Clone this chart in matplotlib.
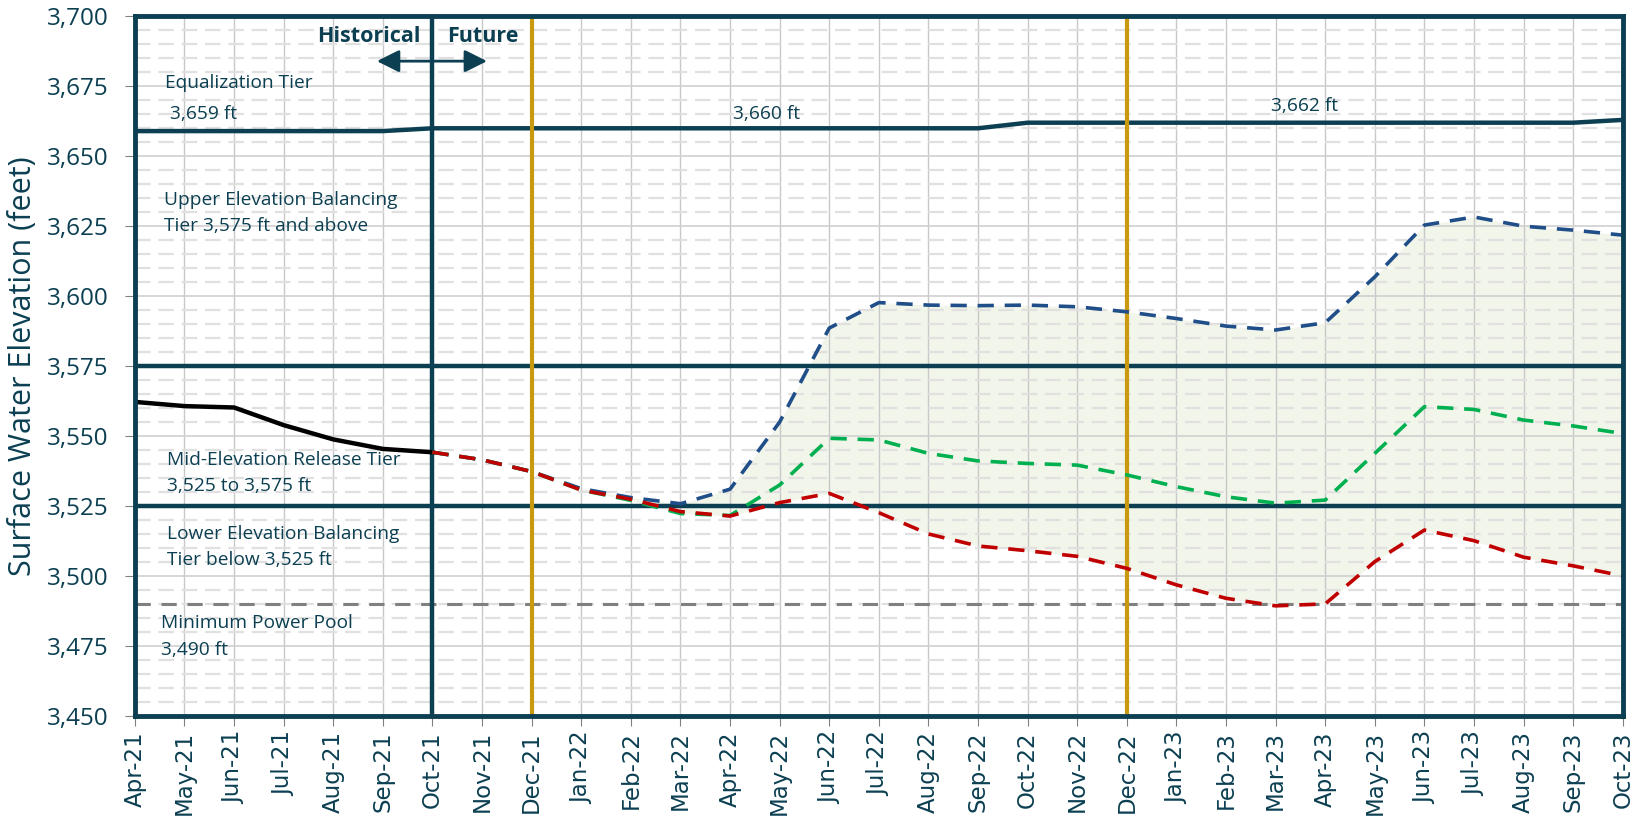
"""
Reservoir elevation projections - historical and future tiers
"""

import numpy as np
import matplotlib
matplotlib.use('Agg')
import matplotlib.pyplot as plt
from matplotlib.ticker import MultipleLocator, FuncFormatter

# Month labels along the x axis
months = ['Apr-21', 'May-21', 'Jun-21', 'Jul-21', 'Aug-21', 'Sep-21', 'Oct-21',
          'Nov-21', 'Dec-21', 'Jan-22', 'Feb-22', 'Mar-22', 'Apr-22', 'May-22',
          'Jun-22', 'Jul-22', 'Aug-22', 'Sep-22', 'Oct-22', 'Nov-22', 'Dec-22',
          'Jan-23', 'Feb-23', 'Mar-23', 'Apr-23', 'May-23', 'Jun-23', 'Jul-23',
          'Aug-23', 'Sep-23', 'Oct-23']

# Historical elevations (Apr-21 .. Oct-21)
historical = [3562.2, 3560.7, 3560.2, 3553.9, 3548.8, 3545.4, 3544.2]

# Future projections (Oct-21 .. Oct-23)
max_probable = [3544.2, 3541.5, 3537.3, 3531.2, 3528.0, 3525.8, 3531.0, 3555.0,
                3588.6, 3597.7, 3596.8, 3596.6, 3596.8, 3596.2, 3594.4, 3592.0,
                3589.3, 3587.9, 3590.5, 3606.9, 3625.4, 3628.3, 3625.0, 3623.6,
                3621.8]
most_probable = [3544.2, 3541.5, 3537.3, 3530.7, 3527.0, 3522.3, 3521.6, 3532.5,
                 3549.2, 3548.6, 3543.8, 3541.1, 3540.2, 3539.6, 3536.1, 3531.9,
                 3528.3, 3526.0, 3527.1, 3543.8, 3560.5, 3559.5, 3555.7, 3553.6,
                 3550.9]
min_probable = [3544.2, 3541.5, 3537.3, 3530.7, 3527.4, 3523.0, 3521.4, 3526.2,
                3529.5, 3522.6, 3515.0, 3510.7, 3509.0, 3507.0, 3502.7, 3496.8,
                3492.0, 3489.3, 3490.0, 3505.1, 3516.4, 3512.6, 3506.7, 3503.6,
                3500.0]

# Equalization tier elevation for every month
equalization = [3659, 3659, 3659, 3659, 3659, 3659, 3660, 3660, 3660, 3660, 3660,
                3660, 3660, 3660, 3660, 3660, 3660, 3660, 3662, 3662, 3662, 3662,
                3662, 3662, 3662, 3662, 3662, 3662, 3662, 3662, 3663]

upper_tier = 3575
lower_tier = 3525
min_power_pool = 3490
split_month = 'Oct-21'
water_year_marks = ['Dec-21', 'Dec-22']

teal = '#0b3f51'
gold = '#c99a10'

plt.rcParams['font.family'] = ['Open Sans', 'DejaVu Sans']

fig = plt.figure(figsize=(16.45, 8.19), dpi=100)
ax = fig.add_axes([0.082, 0.126, 0.9045, 0.854])

x_all = np.arange(len(months))
x_hist = x_all[:len(historical)]
start = months.index(split_month)
x_fut = x_all[start:start + len(max_probable)]

# grid
ax.yaxis.set_major_locator(MultipleLocator(25))
ax.yaxis.set_minor_locator(MultipleLocator(5))
ax.grid(axis='y', which='minor', color='#e0e0e0', lw=1.6, ls=(0, (7, 3.5)), zorder=0)
ax.grid(axis='y', which='major', color='#d0d0d0', lw=1.2, zorder=0)
ax.grid(axis='x', which='major', color='#c8c8c8', lw=1.0, zorder=0)

# shaded range between projections
lo = np.minimum(np.minimum(max_probable, most_probable), min_probable)
hi = np.maximum(np.maximum(max_probable, most_probable), min_probable)
ax.fill_between(x_fut, lo, hi, color='#f2f5ea', lw=0, zorder=1)

# tier boundaries
ax.axhline(upper_tier, color=teal, lw=3.2, zorder=3)
ax.axhline(lower_tier, color=teal, lw=3.2, zorder=3)
ax.plot(x_all, equalization, color=teal, lw=3.2, zorder=3)
ax.axhline(min_power_pool, color='#808080', lw=2.2, ls=(0, (5, 3.5)), zorder=3)
ax.axvline(start, color=teal, lw=3.2, zorder=4)

for m in water_year_marks:
    ax.axvline(months.index(m), ymin=0.004, ymax=0.996, color=gold, lw=3, zorder=4)

# series
ax.plot(x_hist, historical, color='black', lw=3.2, zorder=5)
ax.plot(x_fut, max_probable, color='#1f4e89', lw=2.6, ls=(0, (4.5, 3)), zorder=5)
ax.plot(x_fut, most_probable, color='#00b050', lw=2.6, ls=(0, (4.5, 3)), zorder=5)
ax.plot(x_fut, min_probable, color='#c00000', lw=2.6, ls=(0, (4.5, 3)), zorder=6)

# annotations
txt = dict(color=teal, fontsize=13.8, va='center', ha='left', zorder=7)
ax.text(0.6, 3676.2, 'Equalization Tier', **txt)
ax.text(0.7, 3665.2, '3,659 ft', **txt)
ax.text(12.06, 3665.2, '3,660 ft', **txt)
ax.text(22.9, 3667.9, '3,662 ft', **txt)
ax.text(0.58, 3634.3, 'Upper Elevation Balancing', **txt)
ax.text(0.58, 3625.0, 'Tier 3,575 ft and above', **txt)
ax.text(0.64, 3541.4, 'Mid-Elevation Release Tier', **txt)
ax.text(0.64, 3532.1, '3,525 to 3,575 ft', **txt)
ax.text(0.64, 3514.9, 'Lower Elevation Balancing', **txt)
ax.text(0.64, 3505.7, 'Tier below 3,525 ft', **txt)
ax.text(0.53, 3483.0, 'Minimum Power Pool', **txt)
ax.text(0.53, 3473.6, '3,490 ft', **txt)

ax.text(5.77, 3692.9, 'Historical', color=teal, fontsize=15.5, fontweight='bold',
        ha='right', va='center', zorder=7)
ax.text(6.29, 3692.9, 'Future', color=teal, fontsize=15.5, fontweight='bold',
        ha='left', va='center', zorder=7)
ax.annotate('', xy=(4.88, 3684), xytext=(7.1, 3684),
            arrowprops=dict(arrowstyle='<|-|>', color=teal, lw=2,
                            mutation_scale=34, shrinkA=0, shrinkB=0), zorder=7)

# axes
ax.set_xlim(0, len(months) - 1)
ax.set_ylim(3450, 3700)
ax.set_xticks(x_all)
ax.set_xticklabels(months, rotation=90, fontsize=16.5, color=teal,
                   fontfamily='DejaVu Sans')
ax.yaxis.set_major_formatter(FuncFormatter(lambda v, p: f'{v:,.0f}'))
ax.tick_params(axis='y', which='major', labelsize=17.5, labelcolor=teal,
               length=7, color='#808080', pad=12)
ax.tick_params(axis='y', which='minor', length=0)
ax.tick_params(axis='x', length=7, color='#808080', pad=4)
ax.set_ylabel('Surface Water Elevation (feet)', fontsize=22, color=teal, labelpad=6)

for s in ax.spines.values():
    s.set_color(teal)
    s.set_linewidth(3.5)
    s.set_zorder(8)

fig.savefig('out.png', dpi=100)
